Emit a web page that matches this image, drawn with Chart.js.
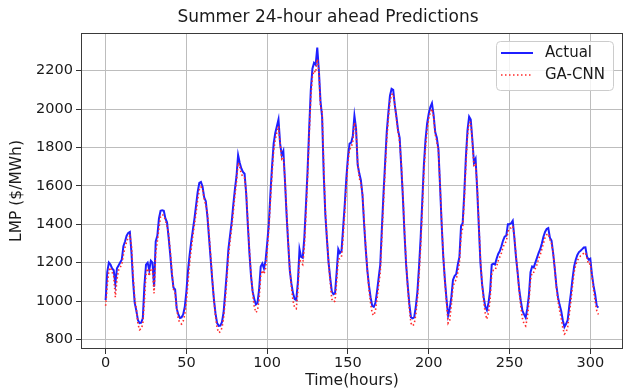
<!DOCTYPE html>
<html>
<head>
<meta charset="utf-8">
<script src="https://cdn.jsdelivr.net/npm/chart.js@4.4.1/dist/chart.umd.min.js"></script>
<style>
html, body { margin: 0; padding: 0; background: #fff; }
</style>
</head>
<body>
<canvas id="chart" width="627" height="391"></canvas>
<script>
// hourly LMP
const actual = [
  1005, 1150, 1200, 1190, 1170, 1160, 1090, 1170, 1185, 1200,
  1215, 1285, 1310, 1340, 1355, 1360, 1250, 1100, 990, 950,
  900, 885, 887, 910, 1080, 1190, 1200, 1160, 1210, 1200,
  1075, 1310, 1340, 1430, 1470, 1472, 1470, 1430, 1410, 1330,
  1240, 1140, 1070, 1060, 960, 930, 912, 915, 930, 970,
  1050, 1160, 1240, 1310, 1370, 1430, 1500, 1570, 1615, 1620,
  1595, 1540, 1520, 1440, 1330, 1220, 1110, 1010, 935, 885,
  870, 872, 890, 940, 1040, 1150, 1270, 1340, 1410, 1500,
  1580, 1650, 1760, 1720, 1690, 1672, 1663, 1560, 1400, 1250,
  1130, 1050, 1010, 982, 990, 1060, 1180, 1195, 1170, 1210,
  1300, 1400, 1560, 1700, 1820, 1875, 1910, 1946, 1820, 1760,
  1782, 1628, 1450, 1300, 1160, 1090, 1040, 1010, 1005, 1100,
  1270, 1230, 1225, 1330, 1500, 1680, 1900, 2100, 2210, 2240,
  2230, 2320, 2200, 2040, 1960, 1660, 1450, 1320, 1200, 1120,
  1050, 1036, 1040, 1150, 1270, 1250, 1260, 1380, 1500, 1640,
  1750, 1820, 1825, 1860, 1965, 1900, 1710, 1665, 1630, 1550,
  1400, 1270, 1160, 1080, 1020, 975, 970, 990, 1050, 1120,
  1190, 1380, 1560, 1720, 1880, 1980, 2070, 2105, 2100, 2020,
  1960, 1890, 1850, 1700, 1540, 1350, 1190, 1080, 985, 915,
  910, 915, 970, 1050, 1180, 1330, 1520, 1710, 1840, 1925,
  1975, 2010, 2030, 1970, 1880, 1850, 1790, 1600, 1400, 1230,
  1110, 1010, 925, 960, 1020, 1110, 1130, 1140, 1190, 1230,
  1390, 1405, 1560, 1750, 1890, 1960, 1945, 1840, 1720, 1740,
  1580, 1390, 1200, 1090, 1020, 970, 952, 990, 1055, 1190,
  1195, 1190, 1220, 1245, 1260, 1285, 1315, 1335, 1340, 1400,
  1400, 1405, 1418, 1330, 1230, 1150, 1060, 1000, 950, 930,
  913, 960, 1030, 1150, 1180, 1175, 1200, 1225, 1250, 1270,
  1300, 1335, 1360, 1375, 1380, 1330, 1315, 1250, 1170, 1080,
  1020, 980, 948, 900, 865, 880, 900, 975, 1040, 1115,
  1180, 1215, 1240, 1255, 1262, 1270, 1279, 1280, 1230, 1215,
  1220, 1140, 1080, 1036, 975, 965
];
const gaCnn = [
  975, 1080, 1160, 1175, 1150, 1130, 1020, 1110, 1160, 1175,
  1190, 1240, 1280, 1310, 1330, 1340, 1290, 1140, 1010, 960,
  880, 850, 855, 880, 1000, 1140, 1170, 1130, 1170, 1160,
  1040, 1250, 1310, 1380, 1440, 1450, 1445, 1420, 1390, 1350,
  1260, 1160, 1060, 1040, 960, 905, 885, 880, 895, 930,
  1000, 1100, 1200, 1270, 1340, 1400, 1460, 1530, 1580, 1595,
  1580, 1530, 1500, 1460, 1350, 1240, 1120, 1010, 920, 860,
  835, 840, 860, 910, 1000, 1110, 1230, 1310, 1380, 1460,
  1550, 1620, 1720, 1700, 1660, 1650, 1640, 1570, 1420, 1270,
  1140, 1040, 970, 940, 950, 1010, 1130, 1160, 1140, 1170,
  1260, 1370, 1520, 1660, 1780, 1840, 1880, 1910, 1820, 1740,
  1750, 1640, 1470, 1310, 1170, 1070, 1000, 965, 960, 1050,
  1220, 1200, 1190, 1280, 1450, 1640, 1860, 2060, 2170, 2200,
  2190, 2260, 2200, 2010, 1990, 1700, 1470, 1330, 1200, 1100,
  1010, 995, 1000, 1100, 1220, 1220, 1230, 1330, 1460, 1600,
  1720, 1790, 1800, 1830, 1930, 1900, 1720, 1640, 1610, 1560,
  1420, 1280, 1160, 1060, 990, 935, 925, 950, 1010, 1080,
  1150, 1330, 1510, 1680, 1840, 1950, 2040, 2075, 2080, 2020,
  1950, 1880, 1830, 1720, 1560, 1370, 1200, 1070, 960, 885,
  870, 880, 930, 1010, 1130, 1280, 1470, 1670, 1800, 1890,
  1950, 1985, 2000, 1960, 1870, 1830, 1780, 1610, 1410, 1240,
  1100, 990, 885, 900, 980, 1070, 1100, 1110, 1150, 1200,
  1340, 1380, 1520, 1710, 1860, 1930, 1930, 1830, 1700, 1710,
  1600, 1410, 1220, 1090, 1000, 935, 905, 940, 1010, 1140,
  1160, 1160, 1180, 1210, 1230, 1250, 1280, 1300, 1310, 1360,
  1380, 1380, 1390, 1340, 1240, 1150, 1050, 970, 910, 880,
  870, 910, 990, 1110, 1150, 1150, 1170, 1190, 1220, 1240,
  1270, 1300, 1330, 1345, 1350, 1320, 1300, 1250, 1170, 1070,
  1000, 950, 910, 860, 828, 835, 865, 930, 1000, 1080,
  1150, 1190, 1210, 1225, 1235, 1240, 1250, 1252, 1220, 1190,
  1195, 1130, 1060, 1000, 950, 930
];
const hours = actual.map((_, i) => i);
const xTicks = [0, 50, 100, 150, 200, 250, 300];
const yTicks = [800, 1000, 1200, 1400, 1600, 1800, 2000, 2200];

const FONT = "'DejaVu Sans', sans-serif";
const TEXT = '#1a1a1a';

// title, box frame and legend drawn the matplotlib way
const decorations = {
  id: 'decorations',
  afterDraw(chart) {
    const { ctx, chartArea: a } = chart;
    ctx.save();
    ctx.strokeStyle = '#3a3a3a';
    ctx.lineWidth = 1;
    ctx.strokeRect(a.left + 0.5, a.top + 0.5, a.right - a.left - 1, a.bottom - a.top - 1);

    ctx.fillStyle = TEXT;
    ctx.font = '17px ' + FONT;
    ctx.textAlign = 'center';
    ctx.textBaseline = 'middle';
    ctx.fillText('Summer 24-hour ahead Predictions', 328, 18);

    // legend box in the upper right corner
    const bx = a.right - 127, by = a.top + 8, bw = 117, bh = 49;
    ctx.beginPath();
    ctx.roundRect(bx + 0.5, by + 0.5, bw, bh, 4);
    ctx.fillStyle = 'rgba(255,255,255,0.8)';
    ctx.fill();
    ctx.strokeStyle = '#cccccc';
    ctx.stroke();

    ctx.lineWidth = 2;
    ctx.strokeStyle = '#1f1fff';
    ctx.beginPath();
    ctx.moveTo(bx + 5, by + 12);
    ctx.lineTo(bx + 37, by + 12);
    ctx.stroke();

    ctx.lineWidth = 1.6;
    ctx.strokeStyle = '#ff2a2a';
    ctx.setLineDash([1.5, 2.5]);
    ctx.beginPath();
    ctx.moveTo(bx + 5, by + 34);
    ctx.lineTo(bx + 37, by + 34);
    ctx.stroke();
    ctx.setLineDash([]);

    ctx.fillStyle = TEXT;
    ctx.font = '15px ' + FONT;
    ctx.textAlign = 'left';
    ctx.fillText('Actual', bx + 49, by + 12);
    ctx.fillText('GA-CNN', bx + 49, by + 34);
    ctx.restore();
  }
};

new Chart(document.getElementById('chart'), {
  type: 'line',
  data: {
    datasets: [
      {
        label: 'Actual',
        data: hours.map((h, i) => ({ x: h, y: actual[i] })),
        borderColor: '#1f1fff',
        borderWidth: 2,
        pointRadius: 0,
        order: 1
      },
      {
        label: 'GA-CNN',
        data: hours.map((h, i) => ({ x: h, y: gaCnn[i] })),
        borderColor: '#ff2a2a',
        borderWidth: 1.6,
        borderDash: [1.5, 2.5],
        pointRadius: 0,
        order: 0
      }
    ]
  },
  options: {
    responsive: false,
    animation: false,
    devicePixelRatio: 1,
    layout: { padding: { top: 33, right: 4, left: 0, bottom: 0 } },
    plugins: {
      legend: { display: false },
      title: { display: false },
      tooltip: { enabled: false }
    },
    scales: {
      x: {
        type: 'linear',
        min: -15.25,
        max: 320.25,
        afterBuildTicks: s => { s.ticks = xTicks.map(v => ({ value: v })); },
        afterFit: s => { s.height = 42; },
        grid: { color: '#bdbdbd', tickColor: '#333', tickLength: 5 },
        border: { display: false },
        ticks: { font: { size: 14.5, family: FONT }, color: TEXT, padding: 1, maxRotation: 0, callback: v => String(v) },
        title: { display: true, text: 'Time(hours)', font: { size: 15.5, family: FONT }, color: TEXT, padding: { top: 0, bottom: 1 } }
      },
      y: {
        min: 750,
        max: 2396,
        afterBuildTicks: s => { s.ticks = yTicks.map(v => ({ value: v })); },
        afterFit: s => { s.width = 81; },
        grid: { color: '#bdbdbd', tickColor: '#333', tickLength: 5 },
        border: { display: false },
        ticks: { font: { size: 14.5, family: FONT }, color: TEXT, padding: 3, callback: v => String(v) },
        title: { display: true, text: 'LMP ($/MWh)', font: { size: 15.5, family: FONT }, color: TEXT, padding: { top: 8, bottom: 0 } }
      }
    }
  },
  plugins: [decorations]
});
</script>
</body>
</html>
